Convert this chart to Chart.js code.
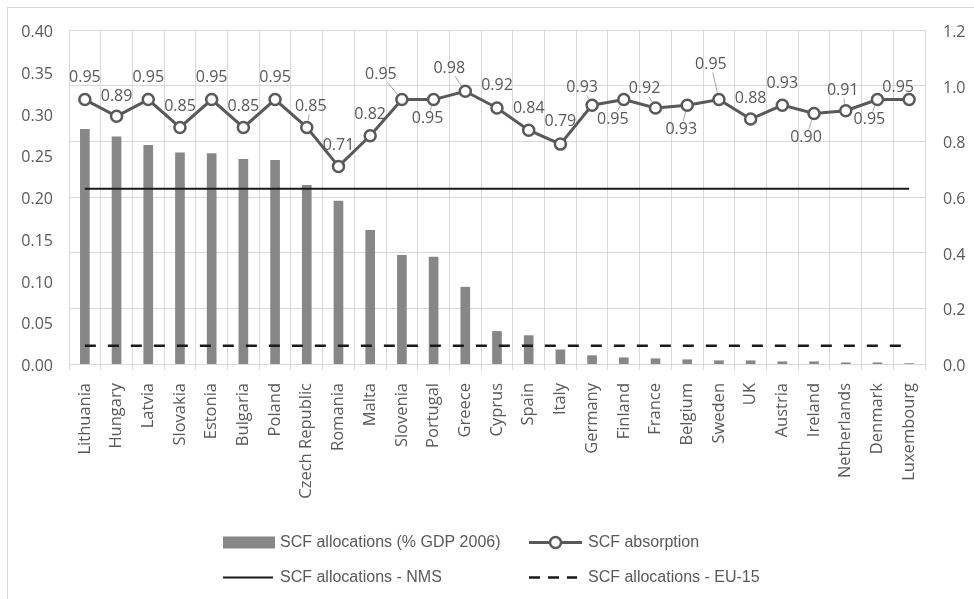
<!DOCTYPE html>
<html>
<head>
<meta charset="utf-8">
<script src="https://cdn.jsdelivr.net/npm/chart.js@4/dist/chart.umd.min.js"></script>
<style>
  html, body { margin: 0; padding: 0; background: #ffffff; }
  canvas { display: block; }
</style>
</head>
<body>
<canvas id="scf" width="974" height="599"></canvas>
<script>
// Structural and Cohesion Funds: allocations (% of 2006 GDP) and absorption rate
const countries = [
  'Lithuania', 'Hungary', 'Latvia', 'Slovakia', 'Estonia', 'Bulgaria', 'Poland',
  'Czech Republic', 'Romania', 'Malta', 'Slovenia', 'Portugal', 'Greece', 'Cyprus',
  'Spain', 'Italy', 'Germany', 'Finland', 'France', 'Belgium', 'Sweden', 'UK',
  'Austria', 'Ireland', 'Netherlands', 'Denmark', 'Luxembourg'
];

const allocations = [
  0.281, 0.272, 0.262, 0.253, 0.252, 0.245, 0.244,
  0.214, 0.195, 0.160, 0.130, 0.128, 0.092, 0.039,
  0.034, 0.017, 0.010, 0.0075, 0.0063, 0.0051, 0.0039, 0.0039,
  0.0027, 0.0027, 0.0015, 0.0015, 0.0005
];

const absorption = [
  0.95, 0.89, 0.95, 0.85, 0.95, 0.85, 0.95,
  0.85, 0.71, 0.82, 0.95, 0.95, 0.98, 0.92,
  0.84, 0.79, 0.93, 0.95, 0.92, 0.93, 0.95, 0.88,
  0.93, 0.90, 0.91, 0.95, 0.95
];

// Group averages of allocations, drawn as reference lines across all countries
const nmsAverage = 0.21;
const eu15Average = 0.022;

// Placement of each absorption value label relative to its marker: [dx, dy, leader line]
const labelPlacement = [
  [0, -22, false], [0, -20, false], [0, -22, false], [0, -21, false], [0, -22, false],
  [0, -21, false], [0, -22, false], [4, -21, true], [0, -21, false], [0, -21, false],
  [-21, -25, true], [-6, 19, true], [-16, -23, true], [0, -22, false], [0, -22, false],
  [0, -23, false], [-10, -18, true], [-11, 20, true], [-11, -19, true], [-6, 24, true],
  [-8, -35, true], [0, -21, false], [0, -22, false], [-8, 24, true], [-3, -20, true],
  [-8, 20, true], [-11, -12, true]
];

const TEXT = '#595959';
const GRID = '#d9d9d9';
const FONT = "'Open Sans', 'DejaVu Sans', sans-serif";

const frame = {
  id: 'frame',
  beforeDraw(chart) {
    const ctx = chart.ctx;
    ctx.save();
    ctx.fillStyle = '#ffffff';
    ctx.fillRect(0, 0, chart.width, chart.height);
    ctx.strokeStyle = GRID;
    ctx.lineWidth = 1;
    ctx.strokeRect(7.5, 7.5, chart.width + 20, chart.height + 20);
    ctx.restore();
  }
};

const valueLabels = {
  id: 'valueLabels',
  afterDatasetsDraw(chart) {
    const ctx = chart.ctx;
    const meta = chart.getDatasetMeta(3);
    ctx.save();
    ctx.font = "16px " + FONT;
    ctx.textAlign = 'center';
    ctx.textBaseline = 'middle';
    meta.data.forEach((pt, i) => {
      const [dx, dy, leader] = labelPlacement[i];
      const text = absorption[i].toFixed(2);
      const lx = pt.x + dx, ly = pt.y + dy;
      if (leader) {
        const vx = pt.x - lx, vy = pt.y - ly;
        const len = Math.hypot(vx, vy);
        const hw = ctx.measureText(text).width / 2 + 1, hh = 8;
        const t = Math.min(vx ? hw / Math.abs(vx) : Infinity, vy ? hh / Math.abs(vy) : Infinity);
        const sx = lx + vx * t, sy = ly + vy * t;
        const ex = pt.x - vx / len * 7, ey = pt.y - vy / len * 7;
        if (Math.hypot(ex - sx, ey - sy) > 2 && t < 1) {
          ctx.strokeStyle = '#a6a6a6';
          ctx.lineWidth = 1;
          ctx.beginPath();
          ctx.moveTo(sx, sy);
          ctx.lineTo(ex, ey);
          ctx.stroke();
        }
      }
      ctx.fillStyle = TEXT;
      ctx.fillText(text, lx, ly);
    });
    ctx.restore();
  }
};

const legendBlock = {
  id: 'legendBlock',
  afterDraw(chart) {
    const ctx = chart.ctx;
    const ds = chart.data.datasets;
    ctx.save();
    ctx.font = "16px 'Liberation Sans', Arial, sans-serif";
    ctx.textBaseline = 'middle';
    ctx.textAlign = 'left';
    ctx.fillStyle = TEXT;

    // Row 1: bars and absorption
    const r1 = 542.5, r2 = 577.5;
    ctx.fillStyle = ds[0].backgroundColor;
    ctx.fillRect(223, r1 - 6, 52, 12);
    ctx.fillStyle = TEXT;
    ctx.fillText(ds[0].label, 280, r1);

    ctx.strokeStyle = ds[3].borderColor;
    ctx.lineWidth = 3;
    ctx.beginPath();
    ctx.moveTo(529, r1); ctx.lineTo(582, r1);
    ctx.stroke();
    ctx.beginPath();
    ctx.arc(555.5, r1, 5.5, 0, Math.PI * 2);
    ctx.fillStyle = '#ffffff';
    ctx.fill();
    ctx.lineWidth = 2.5;
    ctx.stroke();
    ctx.fillStyle = TEXT;
    ctx.fillText(ds[3].label, 588, r1);

    // Row 2: group averages
    ctx.strokeStyle = ds[1].borderColor;
    ctx.lineWidth = ds[1].borderWidth;
    ctx.beginPath();
    ctx.moveTo(223, r2); ctx.lineTo(273, r2);
    ctx.stroke();
    ctx.fillText(ds[1].label, 280, r2);

    ctx.strokeStyle = ds[2].borderColor;
    ctx.lineWidth = ds[2].borderWidth;
    ctx.setLineDash([11, 8]);
    ctx.beginPath();
    ctx.moveTo(529, r2); ctx.lineTo(577, r2);
    ctx.stroke();
    ctx.setLineDash([]);
    ctx.fillText(ds[2].label, 588, r2);
    ctx.restore();
  }
};

new Chart(document.getElementById('scf'), {
  data: {
    labels: countries,
    datasets: [
      {
        type: 'bar',
        label: 'SCF allocations (% GDP 2006)',
        data: allocations,
        yAxisID: 'y',
        backgroundColor: '#878787',
        barThickness: 9,
        order: 4
      },
      {
        type: 'line',
        label: 'SCF allocations - NMS',
        data: [
          { x: countries[0], y: nmsAverage },
          { x: countries[countries.length - 1], y: nmsAverage }
        ],
        yAxisID: 'y',
        borderColor: '#1a1a1a',
        borderWidth: 2,
        pointRadius: 0,
        order: 2
      },
      {
        type: 'line',
        label: 'SCF allocations - EU-15',
        data: [
          { x: countries[0], y: eu15Average },
          { x: countries[countries.length - 1], y: eu15Average }
        ],
        yAxisID: 'y',
        borderColor: '#1a1a1a',
        borderWidth: 2.5,
        borderDash: [11, 12],
        pointRadius: 0,
        order: 3
      },
      {
        type: 'line',
        label: 'SCF absorption',
        data: absorption,
        yAxisID: 'y1',
        borderColor: '#595959',
        borderWidth: 3,
        pointRadius: 5.5,
        pointBorderWidth: 2.5,
        pointBackgroundColor: '#ffffff',
        pointBorderColor: '#595959',
        tension: 0,
        order: 1
      }
    ]
  },
  options: {
    responsive: false,
    animation: false,
    devicePixelRatio: 1,
    layout: { padding: { top: 30, left: 0, right: 0, bottom: 0 } },
    plugins: {
      legend: { display: false },
      tooltip: { enabled: false }
    },
    scales: {
      x: {
        type: 'category',
        offset: true,
        grid: { color: GRID, offset: true, tickLength: 6, tickColor: GRID },
        border: { color: GRID },
        ticks: {
          autoSkip: false,
          minRotation: 90,
          maxRotation: 90,
          padding: 13,
          color: TEXT,
          font: { family: FONT, size: 16.5 }
        },
        afterFit(scale) { scale.height = 235; }
      },
      y: {
        position: 'left',
        min: 0,
        max: 0.4,
        grid: { display: false, drawTicks: false },
        border: { display: false },
        ticks: {
          stepSize: 0.05,
          padding: 16,
          labelOffset: 2.5,
          color: TEXT,
          font: { family: FONT, size: 16 },
          callback: v => v.toFixed(2)
        },
        afterFit(scale) { scale.width = 69; }
      },
      y1: {
        position: 'right',
        min: 0,
        max: 1.2,
        grid: { color: GRID, drawTicks: false },
        border: { display: false },
        ticks: {
          stepSize: 0.2,
          padding: 18,
          labelOffset: 2.5,
          color: TEXT,
          font: { family: FONT, size: 16 },
          callback: v => v.toFixed(1)
        },
        afterFit(scale) { scale.width = 49; }
      }
    }
  },
  plugins: [frame, valueLabels, legendBlock]
});
</script>
</body>
</html>
